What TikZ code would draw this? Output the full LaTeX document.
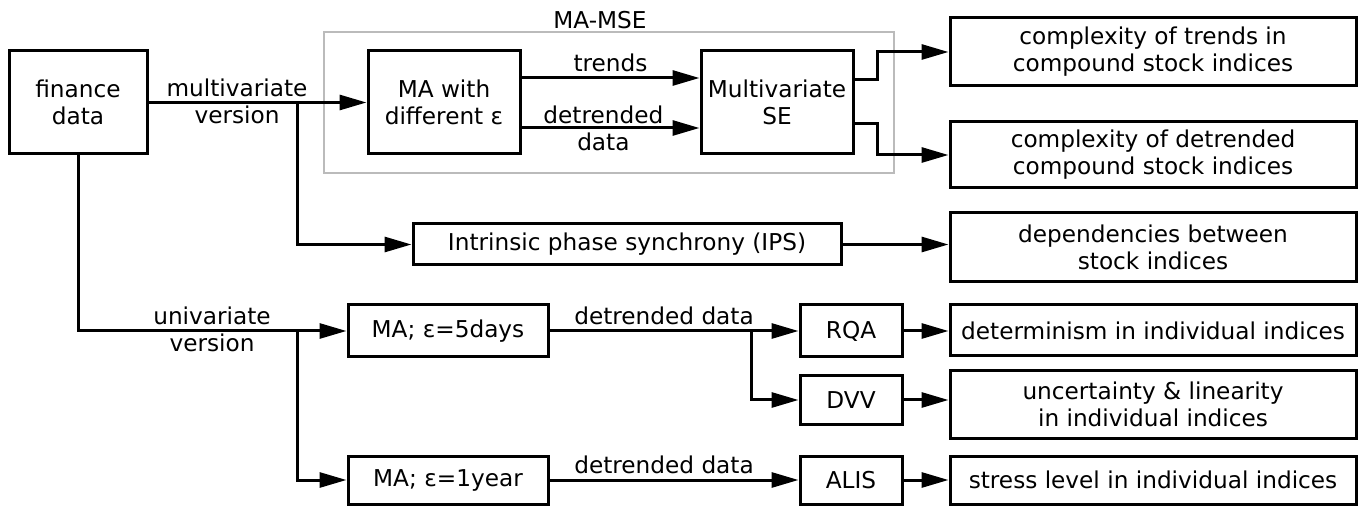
\documentclass[tikz,border=0pt]{standalone}
\usepackage{fontspec}
\setmainfont{DejaVu Sans}
\usetikzlibrary{calc,positioning,arrows.meta}
\definecolor{Frame}{HTML}{BBBBBB}

\begin{document}
\begin{tikzpicture}[
    x=0.5pt, y=-0.5pt,
    >={Triangle[length=13.5pt, width=7.5pt]},
    line width=1.5pt,
    font=\fontsize{11.6}{13.5}\selectfont,
    procBox/.style={draw, rectangle, align=center, inner sep=0pt},
    outBox/.style={draw, rectangle, align=center, inner sep=0pt, minimum width=203pt},
    groupBox/.style={draw=Frame, line width=1pt},
    edgeLabel/.style={align=center, inner sep=1pt},
  ]
  \useasboundingbox (0,0) rectangle (1359,507);
  % boxes
  \node[procBox, minimum width=69pt, minimum height=51.5pt] (financeD) at (78,102.5) {finance\\data};
  \node[procBox, minimum width=76pt, minimum height=51.5pt] (maEps) at (444,102.5) {MA with\\different ε};
  \node[procBox, minimum width=76pt, minimum height=51.5pt] (mvSE) at (777,102.5) {Multivariate\\SE};
  \node[procBox, minimum width=214pt, minimum height=20.5pt] (ips) at (627,244.5) {Intrinsic phase synchrony (IPS)};
  \node[procBox, minimum width=100pt, minimum height=26pt] (maDays) at (448,331) {MA; ε=5days};
  \node[procBox, minimum width=51pt, minimum height=26pt] (rqa) at (851,331) {RQA};
  \node[procBox, minimum width=51pt, minimum height=24pt] (dvv) at (851,400) {DVV};
  \node[procBox, minimum width=100pt, minimum height=24pt] (maYear) at (448,480) {MA; ε=1year};
  \node[procBox, minimum width=51pt, minimum height=24pt] (alis) at (851,480) {ALIS};
  % results
  \node[outBox, minimum height=34pt] (trendC) at (1153,52) {complexity of trends in\\compound stock indices};
  \node[outBox, minimum height=33pt] (detrC) at (1153,155) {complexity of detrended\\compound stock indices};
  \node[outBox, minimum height=34.5pt] (depC) at (1153,247.5) {dependencies between\\stock indices};
  \node[outBox, minimum height=25.5pt] (detC) at (1153,330.5) {determinism in individual indices};
  \node[outBox, minimum height=33.5pt] (uncC) at (1153,404.5) {uncertainty \& linearity\\in individual indices};
  \node[outBox, minimum height=24pt] (stressC) at (1153,480) {stress level in individual indices};
  % MA-MSE frame
  \draw[groupBox] ($(maEps.north west)+(-43,-17)$) rectangle ($(mvSE.south east)+(39,18)$);
  \node (maMseL) at (600,20) {MA-MSE};
  % split points
  \coordinate (splitM) at (297,103);
  \coordinate (splitU) at (297,331);
  \coordinate (splitD) at (751,331);
  % lines
  \draw[->] (financeD) -- (maEps);
  \node[edgeLabel] (multiL) at (237,101) {multivariate\\version};
  \draw[->] (splitM) |- (ips.west);
  \draw[->] ([yshift=12.25pt]maEps.east) -- node[above=-1pt] (trendsL) {trends} ([yshift=12.25pt]mvSE.west);
  \draw[->] ([yshift=-12.75pt]maEps.east) -- node[edgeLabel, pos=0.46] (detrL) {detrended\\data} ([yshift=-12.75pt]mvSE.west);
  \draw[->] ([yshift=11.25pt]mvSE.east) -- ++(11.5pt,0) |- (trendC.west);
  \draw[->] ([yshift=-10.75pt]mvSE.east) -- ++(11.5pt,0) |- (detrC.west);
  \draw[->] (ips) -- (ips -| depC.west);
  \draw[->] (financeD.south) |- (maDays.west);
  \node[edgeLabel] (uniL) at (212,329) {univariate\\version};
  \draw[->] (splitU) |- (maYear.west);
  \draw[->] (maDays) -- node[above=-1pt, pos=0.46] (detrU) {detrended data} (rqa);
  \draw[->] (splitD) |- (dvv.west);
  \draw[->] (maYear) -- node[above=-1pt, pos=0.46] (detrY) {detrended data} (alis);
  \draw[->] (rqa) -- (rqa -| detC.west);
  \draw[->] (dvv) -- (dvv -| uncC.west);
  \draw[->] (alis) -- (alis -| stressC.west);
\end{tikzpicture}
\end{document}
